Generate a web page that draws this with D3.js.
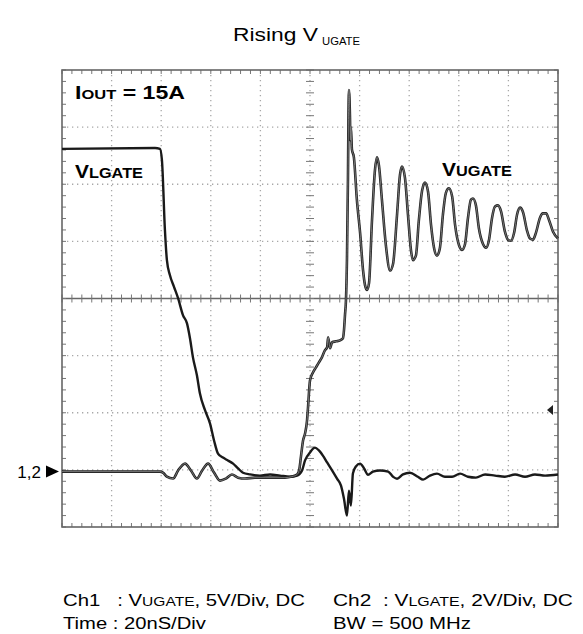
<!DOCTYPE html>
<html>
<head>
<meta charset="utf-8">
<script src="https://cdn.jsdelivr.net/npm/d3@7"></script>
<style>
  html, body { margin: 0; padding: 0; background: #fff; }
  svg { display: block; font-family: "Liberation Sans", Arial, sans-serif; }
  text { white-space: pre; }
</style>
</head>
<body>
<svg id="chart" width="583" height="634"></svg>
<script>
// ---------------- DATA ----------------
// Time axis: 20 ns/div, 10 divisions
const timeDomain = [0, 200];           // ns
const divisionsX = 10;
const divisionsY = 8;
const ch1VoltsPerDiv = 5;               // VUGATE
const ch2VoltsPerDiv = 2;               // VLGATE

// Ch2: VLGATE (time ns, volts)
const lgateTime = [0, 37.5, 39.5, 40.3, 41.5, 42.3, 43.5, 45.2, 46.8, 48.8, 50.4, 51.6, 52.8, 54.4, 55.6, 57.7,
  59.7, 61.3, 62.9, 64.9, 66.9, 69.0, 71.0, 73.0, 75.8, 79.8, 83.9, 87.9, 91.9, 94.8, 96.8, 98.0, 100, 102,
  103.6, 105.2, 106.9, 108.9, 110.9, 112.5, 113.7, 114.9, 115.7, 116.5, 117.3, 118.5, 120.2, 121.8, 123.4,
  125.4, 128.2, 131.5, 133.5, 135.1, 137.5, 140.3, 143.5, 145.6, 148.4, 151.2, 154.4, 157.3, 160.5, 163.7,
  166.9, 170.6, 174.6, 178.6, 182.7, 186.7, 190.7, 194.8, 200];
const lgateVolts = [11.30, 11.33, 11.3, 10.9, 8.46, 7.40, 6.88, 6.46, 6.07, 5.47, 5.19, 4.67, 4.0, 3.37, 2.74, 2.14,
  1.68, 1.09, 0.63, 0.49, 0.39, 0.28, 0.11, -0.04, -0.1, -0.14, -0.1, -0.14, -0.18, -0.14, 0.04, 0.39, 0.67, 0.84,
  0.74, 0.56, 0.32, 0.04, -0.25, -0.49, -0.95, -1.54, -0.67, -1.19, -0.07, 0.18, 0.28, 0.11, -0.11,
  0, 0.04, 0, -0.18, -0.25, -0.1, -0.04, -0.18, -0.28, -0.14, -0.07, -0.18, -0.18, -0.07, -0.18,
  -0.21, -0.1, -0.14, -0.18, -0.1, -0.18, -0.1, -0.14, -0.1];

// Ch1: VUGATE (time ns, volts)
const ugateTime = [0, 39.5, 40.7, 42.3, 44.8, 46.8, 49.6, 52.0, 54.4, 56.5, 58.9, 61.3, 63.7, 66.1, 68.5, 71.0,
  73.8, 77.8, 81.9, 85.9, 89.9, 92.7, 94.8, 95.6, 96.4, 97.2, 98.0, 98.8, 99.2, 100, 101.2, 102.4, 103.6,
  104.8, 106.0, 106.9, 107.3, 108.1, 108.9, 110.5, 112.1, 113.3, 113.7, 114.1, 114.5, 114.9, 115.3, 115.5,
  115.7, 116.1, 116.3, 116.5, 116.9, 117.7, 118.9, 120.2, 121.4, 122.2, 123.0, 123.8, 125.0, 126.2, 127.0,
  127.8, 129.0, 130.6, 132.3, 133.5, 135.1, 136.3, 137.1, 138.3, 139.5, 140.7, 141.5, 142.7, 143.9, 145.2,
  146.4, 147.6, 148.8, 150.0, 151.2, 152.4, 153.6, 154.8, 156.0, 157.3, 158.5, 160.1, 161.3, 162.5, 163.7,
  164.9, 165.7, 166.9, 168.1, 169.8, 171.0, 172.2, 173.4, 174.6, 175.8, 177.0, 178.6, 179.8, 181.0, 182.3,
  183.5, 184.7, 185.9, 187.5, 188.7, 189.9, 191.1, 192.7, 193.9, 195.2, 196.4, 198.0, 200];
const ugateVolts = [0, 0, -0.09, -0.44, -0.61, 0.09, 0.70, 0.09, -0.61, 0.09, 0.70, -0.09, -0.79, -0.61, -0.26, -0.53,
  -0.61, -0.53, -0.53, -0.53, -0.53, -0.44, -0.26, 0.09, 1.40, 2.72, 3.33, 4.47, 5.61, 7.98, 8.68, 9.12, 9.56,
  10.0, 10.61, 10.88, 11.75, 10.79, 11.32, 11.40, 11.49, 11.67, 12.37, 13.68, 15.0, 18.5, 25.5, 30.8,
  33.4, 31.2, 29.0, 30.2, 28.2, 27.5, 23.8, 20.9, 17.6, 16.3, 15.9, 16.5, 22.0, 26.4, 27.5,
  26.8, 23.8, 19.8, 17.6, 18.2, 22.5, 26.0, 26.7, 25.7, 22.5, 19.4, 18.5, 18.9, 22.0, 24.6,
  25.3, 24.5, 21.6, 19.6, 18.9, 19.6, 22.5, 24.4, 24.8, 24.1, 21.6, 19.8, 19.4, 19.9, 22.2,
  23.8, 23.9, 23.3, 21.3, 19.9, 19.6, 20.3, 22.2, 23.2, 23.3, 22.8, 21.0, 20.3, 20.2, 20.9,
  22.5, 23.1, 22.7, 21.1, 20.4, 20.3, 20.9, 22.2, 22.6, 22.6, 22.0, 21.0, 20.4];

// Texts
const titleMain = "Rising V";
const titleSub = "UGATE";
const groundLabel = "1,2";
const footer = [
  ["Ch1   : V", "UGATE", ", 5V/Div, DC"],
  ["Ch2  : V", "LGATE", ", 2V/Div, DC"],
  ["Time : 20nS/Div"],
  ["BW = 500 MHz"]
];

// ---------------- LAYOUT ----------------
const L = 62, R = 558, T = 70, B = 527;
const groundDiv = -3.03;   // ground reference of channels 1,2 (in divisions from center)

const svg = d3.select("#chart");
const x = d3.scaleLinear().domain(timeDomain).range([L, R]);
const yDiv = d3.scaleLinear().domain([-divisionsY / 2, divisionsY / 2]).range([B, T]);
const y1 = v => yDiv(groundDiv + v / ch1VoltsPerDiv);
const y2 = v => yDiv(groundDiv + v / ch2VoltsPerDiv);

const g = svg.append("g");
const step = (timeDomain[1] - timeDomain[0]) / divisionsX;

// dotted grid lines
const xMajors = d3.range(1, divisionsX).map(i => timeDomain[0] + i * step).filter(t => t !== 100);
const yMajors = d3.range(-divisionsY / 2 + 1, divisionsY / 2).filter(d => d !== 0);
const dotStyle = sel => sel.attr("stroke", "#a8a8a8").attr("stroke-width", 1.3).attr("stroke-dasharray", "1.3,3.7");
g.selectAll(".vg").data(xMajors).join("line")
  .attr("x1", d => x(d)).attr("x2", d => x(d)).attr("y1", T).attr("y2", B).call(dotStyle);
g.selectAll(".hg").data(yMajors).join("line")
  .attr("x1", L).attr("x2", R).attr("y1", d => yDiv(d)).attr("y2", d => yDiv(d)).call(dotStyle);

// center vertical (dotted) and horizontal (solid) axes
g.append("line").attr("x1", x(100)).attr("x2", x(100)).attr("y1", T).attr("y2", B).call(dotStyle);
g.append("line").attr("x1", L).attr("x2", R).attr("y1", yDiv(0)).attr("y2", yDiv(0))
  .attr("stroke", "#666").attr("stroke-width", 1.4);

// minor ticks
const xMinor = d3.range(0, divisionsX * 5 + 1).map(i => timeDomain[0] + i * step / 5);
const yMinor = d3.range(0, divisionsY * 5 + 1).map(i => -divisionsY / 2 + i / 5);
const tickColor = "#777";
[[T, 0, 4], [B, -4, 0], [yDiv(0), -4, 4]].forEach(([yy, a, b]) => {
  g.append("g").selectAll("line").data(xMinor).join("line")
    .attr("x1", d => x(d)).attr("x2", d => x(d)).attr("y1", yy + a).attr("y2", yy + b)
    .attr("stroke", tickColor).attr("stroke-width", 1);
});
[[L, 0, 4], [R, -4, 0], [x(100), -4, 4]].forEach(([xx, a, b]) => {
  g.append("g").selectAll("line").data(yMinor).join("line")
    .attr("y1", d => yDiv(d)).attr("y2", d => yDiv(d)).attr("x1", xx + a).attr("x2", xx + b)
    .attr("stroke", tickColor).attr("stroke-width", 1);
});

// frame
g.append("rect").attr("x", L).attr("y", T).attr("width", R - L).attr("height", B - T)
  .attr("fill", "none").attr("stroke", "#666").attr("stroke-width", 1.6);

// traces
const line1 = d3.line().x(d => x(d[0])).y(d => y1(d[1])).curve(d3.curveMonotoneX);
const line2 = d3.line().x(d => x(d[0])).y(d => y2(d[1])).curve(d3.curveMonotoneX);
svg.append("path").datum(d3.zip(lgateTime, lgateVolts)).attr("d", line2)
  .attr("fill", "none").attr("stroke", "#1a1a1a").attr("stroke-width", 2.4).attr("stroke-linejoin", "round");
const ch1Data = d3.zip(ugateTime, ugateVolts);
svg.append("path").datum(ch1Data).attr("d", line1)
  .attr("fill", "none").attr("stroke", "#222").attr("stroke-width", 2.6).attr("stroke-linejoin", "round");
svg.append("path").datum(ch1Data).attr("d", line1)
  .attr("fill", "none").attr("stroke", "#8a8a8a").attr("stroke-width", 0.8).attr("stroke-linejoin", "round");

// ground marker
const gy = yDiv(groundDiv);
svg.append("text").attr("x", 41).attr("y", gy + 6).attr("text-anchor", "end")
  .attr("font-size", 17).attr("fill", "#000").text(groundLabel);
svg.append("path").attr("d", `M46,${gy - 6}L59,${gy}L46,${gy + 6}Z`).attr("fill", "#000");
// trigger marker at right
svg.append("path").attr("d", `M547,410L553,405L553,415Z`).attr("fill", "#222");

// helper for text with mixed sizes, stretched to target width
function richText(parts, x0, y0, target, weight) {
  const t = svg.append("text").attr("font-weight", weight || "normal").attr("fill", "#000");
  parts.forEach(p => t.append("tspan").attr("font-size", p[1]).text(p[0]));
  const w = t.node().getComputedTextLength();
  const s = target / w;
  t.attr("transform", `translate(${x0},${y0}) scale(${s},1)`);
  return t;
}

// title
richText([[titleMain, 18]], 233, 41, 85);
richText([[titleSub, 10.5]], 322, 45, 38);

// in-plot labels
richText([["I", 17.5], ["OUT", 12.5], [" = 15A", 17.5]], 75, 99, 110, "bold");
richText([["V", 18], ["LGATE", 14]], 75, 178, 68, "bold");
richText([["V", 18], ["UGATE", 14]], 442, 176, 70, "bold");

// footer
richText([[footer[0][0], 17], [footer[0][1], 13], [footer[0][2], 17]], 63, 606, 242);
richText([[footer[1][0], 17], [footer[1][1], 13], [footer[1][2], 17]], 333, 606, 240);
richText([[footer[2][0], 17]], 63, 629, 143);
richText([[footer[3][0], 17]], 333, 629, 138);
</script>
</body>
</html>
